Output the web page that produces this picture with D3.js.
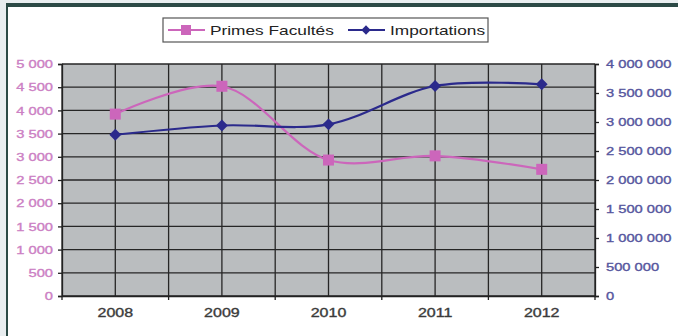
<!DOCTYPE html>
<html>
<head>
<meta charset="utf-8">
<script src="https://cdn.jsdelivr.net/npm/d3@7"></script>
<style>
body{margin:0;background:#fff;}
svg{display:block;font-family:"Liberation Sans",Arial,sans-serif;}
</style>
</head>
<body>
<svg id="chart" width="678" height="336"></svg>
<script>
// data
const years = ['2008','2009','2010','2011','2012'];
const primes = [3920, 4520, 2930, 3020, 2730];
const imports = [2780000, 2940000, 2960000, 3620000, 3650000];
const leftTicks = [0,500,1000,1500,2000,2500,3000,3500,4000,4500,5000];
const rightTicks = [0,500000,1000000,1500000,2000000,2500000,3000000,3500000,4000000];

const svg = d3.select('#chart');
const W = 678, H = 336;
const m = {left:62, right:595, top:64, bottom:296};
const SX = 1.28; // the picture is stretched sideways, so is its text

// stretch text sideways around its anchor point
function stretch(sel){
  sel.each(function(){
    const t = d3.select(this);
    const xx = +t.attr('x') || 0;
    t.attr('x',0).attr('transform',`translate(${xx},0) scale(${SX},1)`);
  });
}

// frame / slide bits
svg.append('rect').attr('x',0).attr('y',0).attr('width',W).attr('height',H).attr('fill','#e9eef0');
svg.append('rect').attr('x',6).attr('y',3).attr('width',W-6).attr('height',H-3).attr('fill','#2c4a46');
svg.append('rect').attr('x',8).attr('y',7).attr('width',W-8).attr('height',H-7).attr('fill','#fff');

const x = d3.scaleBand().domain(years).range([m.left, m.right]);
const yL = d3.scaleLinear().domain([0,5000]).range([m.bottom, m.top]);
const yR = d3.scaleLinear().domain([0,4000000]).range([m.bottom, m.top]);
const fmt = v => d3.format(',')(v).replace(/,/g,' ');

svg.append('rect').attr('x',m.left).attr('y',m.top)
  .attr('width',m.right-m.left).attr('height',m.bottom-m.top).attr('fill','#babdbf');

// horizontal grid
svg.selectAll('line.hg').data(leftTicks).enter().append('line').attr('class','hg')
  .attr('x1',m.left).attr('x2',m.right)
  .attr('y1',d=>yL(d)).attr('y2',d=>yL(d))
  .attr('stroke','#262626').attr('stroke-width',1.3);

// vertical grid: category centres and boundaries
const bounds = years.map(d=>x(d)).concat([m.right]);
const centres = years.map(d=>x(d)+x.bandwidth()/2);
svg.selectAll('line.vg').data(bounds.concat(centres)).enter().append('line').attr('class','vg')
  .attr('x1',d=>d).attr('x2',d=>d).attr('y1',m.top).attr('y2',m.bottom)
  .attr('stroke','#262626').attr('stroke-width',1.3);

// axes
const axL = svg.append('g').attr('transform',`translate(${m.left},0)`)
  .call(d3.axisLeft(yL).tickValues(leftTicks).tickFormat(fmt).tickSize(4).tickPadding(5));
axL.selectAll('text').attr('fill','#cc80c4').attr('font-size',11.5)
  .attr('stroke','#cc80c4').attr('stroke-width',0.35).call(stretch);
const axR = svg.append('g').attr('transform',`translate(${m.right},0)`)
  .call(d3.axisRight(yR).tickValues(rightTicks).tickFormat(fmt).tickSize(4).tickPadding(7));
axR.selectAll('text').attr('fill','#56569e').attr('font-size',11.5)
  .attr('stroke','#56569e').attr('stroke-width',0.35).call(stretch);
const axB = svg.append('g').attr('transform',`translate(0,${m.bottom})`)
  .call(d3.axisBottom(x).tickSize(0).tickPadding(12));
axB.selectAll('text').attr('fill','#3a3a3a').attr('font-size',12.5)
  .attr('stroke','#3a3a3a').attr('stroke-width',0.35).call(stretch);
svg.selectAll('line.bt').data(bounds).enter().append('line').attr('class','bt')
  .attr('x1',d=>d).attr('x2',d=>d).attr('y1',m.bottom).attr('y2',m.bottom+4)
  .attr('stroke','#222').attr('stroke-width',1.3);
[axL,axR,axB].forEach(a=>a.selectAll('path,line').attr('stroke','#222').attr('stroke-width',1.3));

// lines
const lineL = d3.line().x((d,i)=>centres[i]).y(d=>yL(d)).curve(d3.curveCatmullRom.alpha(0.5));
const lineR = d3.line().x((d,i)=>centres[i]).y(d=>yR(d)).curve(d3.curveCatmullRom.alpha(0.5));
const pink = '#cc66bb', navy = '#2b2a8c';

svg.append('path').datum(primes).attr('d',lineL).attr('fill','none')
  .attr('stroke',pink).attr('stroke-width',2.2);
svg.append('path').datum(imports).attr('d',lineR).attr('fill','none')
  .attr('stroke',navy).attr('stroke-width',2.2);

svg.selectAll('rect.pm').data(primes).enter().append('rect').attr('class','pm')
  .attr('x',(d,i)=>centres[i]-5.5).attr('y',d=>yL(d)-5.5)
  .attr('width',11).attr('height',11).attr('fill',pink);
svg.selectAll('path.im').data(imports).enter().append('path').attr('class','im')
  .attr('transform',(d,i)=>`translate(${centres[i]},${yR(d)})`)
  .attr('d',d3.symbol(d3.symbolDiamond2,90)).attr('fill',navy);

// legend
const lg = svg.append('g');
lg.append('rect').attr('x',163).attr('y',18).attr('width',325).attr('height',24)
  .attr('fill','#fff').attr('stroke','#555').attr('stroke-width',1.2);
const items = [{name:'Primes Facultés', c:pink, x:168, sym:'sq'},
               {name:'Importations', c:navy, x:348, sym:'di'}];
items.forEach(it=>{
  lg.append('line').attr('x1',it.x).attr('x2',it.x+37).attr('y1',30).attr('y2',30)
    .attr('stroke',it.c).attr('stroke-width',2);
  if(it.sym==='sq') lg.append('rect').attr('x',it.x+13).attr('y',25).attr('width',10).attr('height',10).attr('fill',it.c);
  else lg.append('path').attr('transform',`translate(${it.x+18},30)`)
    .attr('d',d3.symbol(d3.symbolDiamond2,55)).attr('fill',it.c);
  lg.append('text').attr('x',it.x+42).attr('y',35).text(it.name)
    .attr('font-size',13.5).attr('fill','#222').call(stretch);
});
</script>
</body>
</html>
